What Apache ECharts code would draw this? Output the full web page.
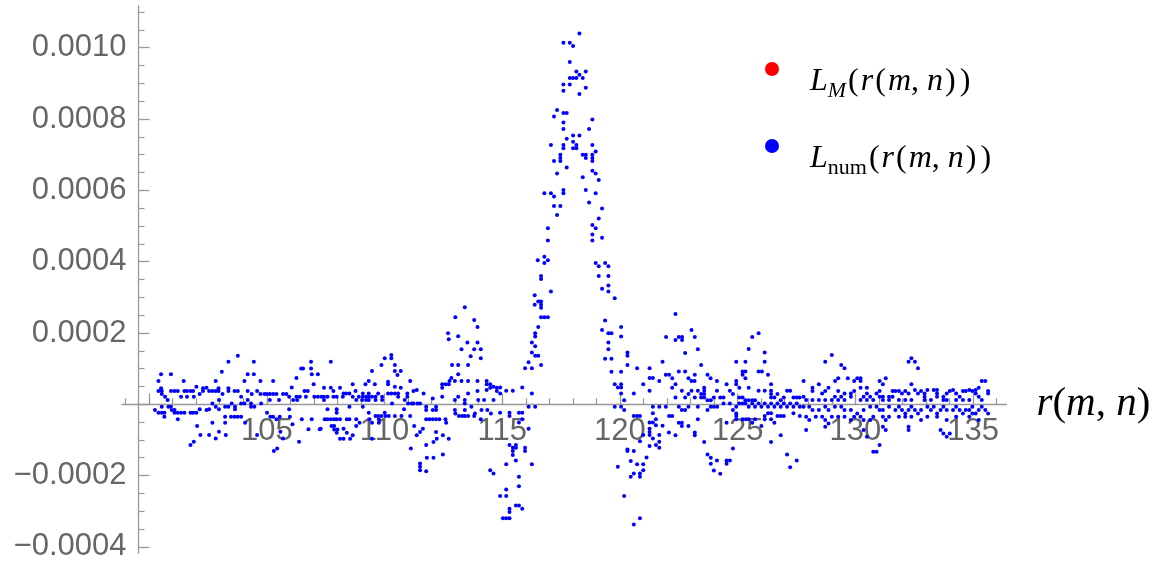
<!DOCTYPE html>
<html>
<head>
<meta charset="utf-8">
<script src="https://cdn.jsdelivr.net/npm/echarts@6/dist/echarts.min.js"></script>
<style>
  html, body { margin: 0; padding: 0; background: #ffffff; }
  #chart { width: 1160px; height: 562px; }
</style>
</head>
<body>
<div id="chart"></div>
<script>
// Axis ticks and labels
const xMajorTicks = [100, 105, 110, 115, 120, 125, 130, 135];
const xTickLabels = [105, 110, 115, 120, 125, 130, 135];
const xMinorTicks = [99, 100, 101, 102, 103, 104, 105, 106, 107, 108, 109, 110, 111, 112, 113, 114, 115, 116, 117, 118,
  119, 120, 121, 122, 123, 124, 125, 126, 127, 128, 129, 130, 131, 132, 133, 134, 135, 136];
const yMajorTicks = [-0.0004, -0.0002, 0, 0.0002, 0.0004, 0.0006, 0.0008, 0.001];
const yTickLabels = [-0.0004, -0.0002, 0.0002, 0.0004, 0.0006, 0.0008, 0.001];
const yMinorTicks = [-0.0004, -0.00035, -0.0003, -0.00025, -0.0002, -0.00015, -0.0001, -0.00005, 0, 0.00005,
  0.0001, 0.00015, 0.0002, 0.00025, 0.0003, 0.00035, 0.0004, 0.00045, 0.0005, 0.00055, 0.0006, 0.00065, 0.0007,
  0.00075, 0.0008, 0.00085, 0.0009, 0.00095, 0.001, 0.00105, 0.0011];

// L_M(r(m,n)) samples
const lModel = [];

// L_num(r(m,n)) samples, [r, L]
const lNumLow = [
  [100.25,-16e-6],[100.4,65e-6],[100.4,37e-6],[100.51,84e-6],[100.51,45e-6],[100.54,37e-6],[100.54,29e-6],[100.4,-24e-6],
  [100.54,-24e-6],[100.65,-24e-6],[100.68,21e-6],[100.54,-7e-6],[100.65,-35e-6],[100.79,12e-6],[100.82,-7e-6],[100.93,84e-6],
  [100.93,37e-6],[100.93,-7e-6],[100.96,-16e-6],[101.08,37e-6],[101.08,-16e-6],[101.08,-24e-6],[101.22,37e-6],[101.22,-42e-6],
  [101.22,-24e-6],[101.36,21e-6],[101.36,-24e-6],[101.47,65e-6],[101.5,37e-6],[101.5,-24e-6],[101.61,37e-6],[101.61,21e-6],
  [101.76,37e-6],[101.76,-24e-6],[101.76,-114e-6],[101.87,37e-6],[101.87,-24e-6],[101.9,21e-6],[101.9,-105e-6],[102.01,49e-6],
  [102.01,-24e-6],[102.04,-61e-6],[102.15,29e-6],[102.15,-14e-6],[102.18,-86e-6],[102.29,45e-6],[102.29,37e-6],[102.44,46e-6],
  [102.44,-16e-6],[102.55,37e-6],[102.55,-14e-6],[102.55,-86e-6],[102.69,37e-6],[102.69,2e-6],[102.69,-52e-6],[102.83,65e-6],
  [102.83,37e-6],[102.83,-7e-6],[102.83,-96e-6],[102.95,45e-6],[102.95,37e-6],[102.97,12e-6],[102.97,-14e-6],[102.97,-77e-6],
  [103.09,91e-6],[103.12,29e-6],[103.23,-7e-6],[103.23,-35e-6],[103.23,-52e-6],[103.26,-86e-6],[103.37,119e-6],[103.37,45e-6],
  [103.37,37e-6],[103.37,-7e-6],[103.51,2e-6],[103.48,-35e-6],[103.63,37e-6],[103.63,-35e-6],[103.65,-7e-6],[103.65,-14e-6],
  [103.77,136e-6],[103.77,37e-6],[103.77,-35e-6],[103.91,21e-6],[103.91,2e-6],[103.91,-35e-6],[104.05,65e-6],[104.05,2e-6],
  [104.08,-52e-6],[104.19,84e-6],[104.19,37e-6],[104.19,12e-6],[104.33,2e-6],[104.33,-7e-6],[104.36,29e-6],[104.45,119e-6],
  [104.45,84e-6],[104.47,-7e-6],[104.59,37e-6],[104.59,-86e-6],[104.73,65e-6],[104.73,29e-6],[104.76,2e-6],[104.9,29e-6],
  [105.01,29e-6],[105.01,-24e-6],[105.13,12e-6],[105.13,29e-6],[105.15,-35e-6],[105.27,65e-6],[105.27,29e-6],[105.27,-35e-6],
  [105.3,-131e-6],[105.41,29e-6],[105.41,-42e-6],[105.44,-124e-6],[105.52,12e-6],[105.55,-35e-6],[105.58,-77e-6],[105.69,29e-6],
  [105.69,-96e-6],[105.83,29e-6],[105.95,21e-6],[105.95,-14e-6],[105.98,-35e-6],[106.06,47e-6],[106.09,-56e-6],[106.12,12e-6],
  [106.26,74e-6],[106.26,21e-6],[106.29,12e-6],[106.37,-105e-6],[106.4,21e-6],[106.46,100e-6],[106.49,-42e-6],[106.54,100e-6],
  [106.6,37e-6],[106.66,21e-6],[106.74,37e-6],[106.77,-70e-6],[106.88,119e-6],[106.88,100e-6],[106.91,84e-6],[106.91,-42e-6],
  [106.99,56e-6],[107.02,21e-6],[107.17,84e-6],[107.17,21e-6],[107.25,-70e-6],
  [107.29,-69e-6],[107.32,21e-6],[107.43,46e-6],[107.43,21e-6],[107.43,12e-6],[107.46,-42e-6],[107.58,-42e-6],[107.58,-14e-6],
  [107.58,21e-6],[107.72,119e-6],[107.72,46e-6],[107.72,-42e-6],[107.75,-61e-6],[107.83,37e-6],[107.83,21e-6],[107.86,-42e-6],
  [107.86,-61e-6],[107.86,-71e-6],[107.97,21e-6],[107.97,-14e-6],[107.97,-24e-6],[107.97,-42e-6],[107.97,-80e-6],[108,-71e-6],
  [108.11,46e-6],[108.11,-42e-6],[108.11,-97e-6],[108.23,21e-6],[108.26,-69e-6],[108.26,-97e-6],[108.26,30e-6],[108.37,30e-6],
  [108.4,-42e-6],[108.4,-80e-6],[108.51,30e-6],[108.51,-7e-6],[108.51,-42e-6],[108.54,-97e-6],[108.65,56e-6],[108.65,21e-6],
  [108.65,-87e-6],[108.77,37e-6],[108.8,12e-6],[108.8,-42e-6],[108.8,-61e-6],[108.91,21e-6],[108.94,-52e-6],[109.05,12e-6],
  [109.08,-7e-6],[109.08,30e-6],[109.08,21e-6],[109.19,56e-6],[109.22,21e-6],[109.22,12e-6],[109.33,65e-6],[109.33,30e-6],
  [109.33,21e-6],[109.33,12e-6],[109.33,-24e-6],[109.36,-42e-6],[109.47,93e-6],[109.47,21e-6],[109.47,-52e-6],[109.47,-97e-6],
  [109.59,56e-6],[109.62,21e-6],[109.62,12e-6],[109.62,-33e-6],[109.73,30e-6],[109.73,-33e-6],[109.76,-42e-6],[109.76,-52e-6],
  [109.87,110e-6],[109.87,-33e-6],[109.9,21e-6],[109.9,12e-6],[110.01,129e-6],[110.01,-24e-6],[110.04,-33e-6],[110.15,63e-6],
  [110.15,56e-6],[110.15,30e-6],[110.18,-33e-6],[110.29,138e-6],[110.29,129e-6],[110.29,30e-6],[110.32,2e-6],[110.44,110e-6],
  [110.44,93e-6],[110.44,49e-6],[110.44,30e-6],[110.44,-33e-6],[110.55,82e-6],[110.58,30e-6],[110.58,21e-6],[110.69,93e-6],
  [110.69,46e-6],[110.72,-33e-6],[110.83,-14e-6],[110.86,12e-6],[110.97,30e-6],[110.97,21e-6],[111,2e-6],[111.09,65e-6],
  [111.09,-33e-6],[111.12,-124e-6],[111.15,2e-6],[111.23,37e-6],[111.23,2e-6],[111.26,-61e-6],[111.37,40e-6],[111.37,-87e-6],
  [111.4,2e-6],[111.51,2e-6],[111.51,-78e-6],[111.51,-166e-6],[111.51,-175e-6],[111.51,-185e-6],[111.63,-69e-6],[111.66,30e-6],
  [111.77,-7e-6],[111.77,-16e-6],[111.77,-42e-6],[111.77,-114e-6],[111.77,-188e-6],[111.8,-150e-6],[111.91,-42e-6],[112.05,16e-6],
  [112.05,-16e-6],[112.05,-42e-6],[112.08,-106e-6],[112.08,-150e-6],[112.19,-7e-6],[112.19,-16e-6],[112.19,-42e-6],[112.19,-78e-6],
  [112.22,-97e-6],[112.33,-42e-6],[112.45,56e-6],[112.45,46e-6],[112.45,21e-6],[112.48,-87e-6],[112.48,-141e-6],[112.59,56e-6],
  [112.59,-42e-6],[112.62,-52e-6],[112.7,199e-6],[112.73,182e-6],[112.73,56e-6],[112.73,-97e-6],[112.76,65e-6],[112.84,74e-6],
  [112.87,110e-6],[112.99,65e-6],[112.99,12e-6],[112.99,-16e-6],[113.01,244e-6],[113.01,-26e-6],[113.13,191e-6],[113.13,110e-6],
  [113.13,84e-6],[113.13,21e-6],[113.16,-33e-6],[113.27,154e-6],[113.27,65e-6],[113.3,-33e-6],[113.41,272e-6],[113.41,12e-6],
  [113.41,2e-6],[113.41,-16e-6],[113.41,-33e-6],[113.52,173e-6],[113.55,110e-6],[113.55,65e-6],[113.55,30e-6],[113.55,-33e-6],
  [113.66,135e-6],[113.69,-7e-6],[113.81,236e-6],[113.81,154e-6],[113.81,-33e-6],[113.84,-26e-6],[113.95,217e-6],[113.95,173e-6],
  [113.95,65e-6],[113.95,37e-6],[113.98,12e-6],[114.09,154e-6],[114.09,129e-6],[114.09,-42e-6],[114.12,-16e-6],[114.23,12e-6],
  [114.34,65e-6],[114.34,56e-6],[114.34,40e-6],[114.37,-16e-6],[114.49,56e-6],[114.49,46e-6],[114.49,-185e-6],[114.52,-26e-6],
  [114.63,49e-6],[114.63,12e-6],[114.63,-194e-6],[114.77,46e-6],[114.77,37e-6]
];

const lNumPeak = [
  [118.28,1040e-6],[117.6,1014e-6],[117.87,1014e-6],[118.01,1005e-6],[117.87,960e-6],[118.15,933e-6],[118.55,933e-6],[118.28,924e-6],
  [117.87,915e-6],[118.01,915e-6],[118.15,915e-6],[118.42,915e-6],[117.6,897e-6],[117.87,897e-6],[118.55,888e-6],[117.6,879e-6],
  [118.28,870e-6],[117.33,825e-6],[117.2,807e-6],[117.6,817e-6],[117.74,817e-6],[118.83,799e-6],[117.6,790e-6],[118.69,772e-6],
  [117.6,772e-6],[118.01,754e-6],[118.28,754e-6],[117.74,745e-6],[118.01,736e-6],[117.07,727e-6],[117.6,727e-6],[118.15,727e-6],
  [118.83,727e-6],[117.6,718e-6],[118.01,718e-6],[118.15,718e-6],[118.97,709e-6],[117.47,700e-6],[118.42,700e-6],[118.55,700e-6],
  [118.83,700e-6],[117.47,691e-6],[118.55,691e-6],[118.83,691e-6],[117.2,682e-6],[117.47,682e-6],[118.83,682e-6],[117.74,664e-6],
  [117.33,647e-6],[118.42,637e-6],[118.83,655e-6],[118.97,647e-6],[119.1,629e-6],[116.79,592e-6],[117.07,592e-6],[117.2,583e-6],
  [117.6,601e-6],[117.6,592e-6],[118.55,601e-6],[118.97,592e-6],[117.2,556e-6],[117.47,556e-6],[118.69,566e-6],[119.24,549e-6],
  [117.33,531e-6],[119.1,521e-6],
  [116.94,494e-6],[116.94,459e-6],[118.83,503e-6],[118.97,494e-6],[118.83,476e-6],[118.83,459e-6],[119.24,467e-6],[116.51,404e-6],
  [116.79,414e-6],[116.79,396e-6],[116.94,404e-6],[118.97,396e-6],[119.1,387e-6],[119.37,396e-6],[119.51,387e-6],[116.65,360e-6],
  [116.65,351e-6],[119.1,360e-6],[119.51,360e-6],[117.07,316e-6],[119.24,324e-6],[119.51,333e-6],[119.51,316e-6],[119.78,297e-6],
  [116.38,306e-6],[116.38,279e-6],[116.53,288e-6],[116.65,288e-6],[116.65,279e-6],[116.65,271e-6],[116.79,244e-6],[116.65,244e-6],
  [116.94,244e-6],[119.37,235e-6],[119.24,208e-6],[119.51,199e-6],[119.64,199e-6],[120.05,217e-6],[120.05,190e-6],[116.53,217e-6],
  [116.4,199e-6],[116.4,190e-6],[116.26,173e-6],[116.4,163e-6],[116.26,145e-6],[116.4,136e-6],[116.53,136e-6],[116.65,110e-6],
  [116.12,118e-6],[115.97,101e-6],[116.26,101e-6],[119.51,173e-6],[119.51,154e-6],[120.32,145e-6],[120.32,136e-6],[119.37,128e-6],
  [119.64,128e-6],[120.32,110e-6],[120.73,101e-6],[119.64,91e-6],[120.05,91e-6],[121.26,101e-6],[121.26,74e-6],[121.4,74e-6],
  [121.67,65e-6],[120.99,56e-6],[121.26,38e-6],[119.78,56e-6],[119.91,47e-6],[120.05,56e-6],[120.05,47e-6],[120.05,30e-6],
  [120.18,11e-6],[120.59,30e-6],[114.91,47e-6],[114.91,30e-6],[115.17,38e-6],[115.45,38e-6],[115.85,47e-6],[116.26,30e-6],
  [116.12,-7e-6],[116.4,-7e-6],[119.78,-7e-6],[120.05,-7e-6],[120.18,-16e-6],[120.59,-33e-6],[120.73,-33e-6],[120.85,-33e-6],
  [121.4,-7e-6],[121.67,-7e-6],[121.4,-25e-6],[121.53,-42e-6],[121.26,-51e-6],[121.4,-51e-6],[121.53,-59e-6],[121.26,-69e-6],
  [121.26,-78e-6],[121.26,-86e-6],[121.4,-96e-6],[121.67,-86e-6],[120.99,-86e-6],[121.67,-105e-6],[121.67,-122e-6],[120.85,-104e-6],
  [121.53,-114e-6],[121.26,-117e-6],[114.91,-24e-6],[115.31,-24e-6],[115.31,-33e-6],[115.71,-24e-6],[115.85,-24e-6],[115.85,-42e-6],
  [115.71,-51e-6],[116.12,-69e-6],[115.31,-114e-6],[115.45,-122e-6],[115.58,-122e-6],[115.45,-131e-6],[115.58,-114e-6],[115.45,-142e-6],
  [115.97,-122e-6],[115.97,-131e-6],[115.58,-158e-6],[116.26,-168e-6],[115.17,-168e-6],[115.71,-203e-6],[115.71,-230e-6],[115.17,-239e-6],
  [115.17,-257e-6],[114.91,-257e-6],[115.58,-284e-6],[115.71,-284e-6],[115.85,-293e-6],[115.31,-293e-6],[115.31,-302e-6],[115.17,-320e-6],
  [115.31,-320e-6],[115.03,-320e-6],[119.91,-175e-6],[120.32,-127e-6],[120.32,-131e-6],[120.46,-159e-6],[120.59,-131e-6],[120.73,-168e-6],
  [120.46,-203e-6],[120.59,-194e-6],[120.85,-194e-6],[120.85,-203e-6],[120.99,-185e-6],[121.13,-149e-6],[120.99,-168e-6],[120.18,-257e-6],
  [120.59,-337e-6],[120.85,-320e-6]
];

const lNumHigh = [
  [121.96,189e-6],[122.36,253e-6],[122.5,189e-6],[122.64,189e-6],[122.36,180e-6],[122.64,180e-6],[123.04,208e-6],[123.18,189e-6],
  [123.31,154e-6],[122.77,144e-6],[123.45,110e-6],[121.81,119e-6],[121.95,83e-6],[122.09,83e-6],[122.22,73e-6],[122.5,92e-6],
  [122.77,92e-6],[122.91,73e-6],[123.18,83e-6],[123.04,65e-6],[123.17,65e-6],[122.36,56e-6],[122.22,46e-6],[122.63,38e-6],
  [123.04,38e-6],[122.91,29e-6],[122.77,19e-6],[122.36,19e-6],[123.18,19e-6],[123.31,38e-6],[123.45,29e-6],[123.58,46e-6],
  [123.58,38e-6],[123.58,29e-6],[123.58,19e-6],[123.45,19e-6],[123.72,83e-6],[123.85,73e-6],[124.12,65e-6],[124.12,38e-6],
  [123.99,19e-6],[123.86,11e-6],[123.72,11e-6],[124.26,19e-6],[124.4,19e-6],[124.53,56e-6],[124.67,38e-6],[124.8,29e-6],
  [124.94,119e-6],[124.94,65e-6],[124.94,56e-6],[125.07,46e-6],[125.21,92e-6],[125.21,83e-6],[125.33,119e-6],[125.33,92e-6],
  [125.33,73e-6],[125.47,46e-6],[125.21,19e-6],[125.07,19e-6],[125.33,11e-6],[125.47,11e-6],[125.62,11e-6],[125.74,11e-6],
  [125.89,92e-6],[126.03,92e-6],[126.15,119e-6],[126.29,83e-6],[125.89,38e-6],[126.15,38e-6],[126.42,56e-6],[126.42,38e-6],
  [126.42,29e-6],[126.42,19e-6],[126.56,19e-6],[126.69,29e-6],[126.83,11e-6],[126.96,19e-6],[127.1,38e-6],[127.23,38e-6],
  [127.37,19e-6],[127.51,19e-6],[127.63,19e-6],[125.47,155e-6],[125.62,189e-6],[125.89,199e-6],[126.15,145e-6],
  [121.95,-7e-6],[122.09,-33e-6],[122.22,-33e-6],[122.5,-7e-6],[122.63,-16e-6],[122.77,-16e-6],[122.91,-7e-6],[123.31,-7e-6],
  [123.72,-16e-6],[123.86,-7e-6],[123.99,-7e-6],[124.13,-7e-6],[124.4,2e-6],[124.67,2e-6],[124.8,-16e-6],[124.94,-7e-6],
  [124.94,-26e-6],[125.07,2e-6],[125.21,2e-6],[125.33,2e-6],[125.47,-7e-6],[125.62,2e-6],[125.74,-7e-6],[125.89,2e-6],
  [126.01,-7e-6],[126.15,2e-6],[126.29,-7e-6],[126.42,2e-6],[126.56,-7e-6],[126.69,2e-6],[126.83,-7e-6],[126.96,2e-6],
  [127.1,-7e-6],[127.23,2e-6],[127.37,-7e-6],[127.51,2e-6],[127.64,-7e-6],[121.81,-60e-6],[122.08,-79e-6],[122.36,-87e-6],
  [122.5,-52e-6],[122.63,-52e-6],[122.63,-61e-6],[122.91,-61e-6],[123.18,-79e-6],[123.18,-87e-6],[123.31,-42e-6],[123.58,-106e-6],
  [123.72,-141e-6],[123.86,-150e-6],[123.86,-167e-6],[124.12,-158e-6],[124.26,-195e-6],[123.99,-186e-6],[124.53,-158e-6],[124.53,-167e-6],
  [124.67,-158e-6],[124.53,-52e-6],[124.8,-124e-6],[124.94,-33e-6],[124.94,-42e-6],[125.21,-42e-6],[125.35,-42e-6],[125.47,-42e-6],
  [125.62,-52e-6],[125.74,-42e-6],[126.01,-61e-6],[126.15,-33e-6],[126.15,-42e-6],[126.29,-25e-6],[126.42,-25e-6],[126.42,-42e-6],
  [126.56,-52e-6],[126.69,-33e-6],[126.83,-87e-6],[126.83,-33e-6],[126.96,-33e-6],[127.1,-141e-6],[127.23,-177e-6],[127.51,-158e-6],
  [127.37,-25e-6],[127.64,-33e-6],[126.42,-106e-6],
  [128.72,119e-6],[129,138e-6],[129.4,110e-6],[129.54,101e-6],[129.14,65e-6],[129.27,73e-6],[129.68,73e-6],[129.95,65e-6],
  [130.08,73e-6],[130.22,73e-6],[130.22,65e-6],[131.03,65e-6],[131.17,56e-6],[131.29,73e-6],[132.38,56e-6],[132.26,119e-6],
  [132.38,129e-6],[132.53,119e-6],[132.66,101e-6],[127.8,65e-6],[128.18,46e-6],[128.18,37e-6],[128.45,56e-6],[128.59,30e-6],
  [128.72,37e-6],[128.86,46e-6],[129.13,21e-6],[129.27,37e-6],[129.4,21e-6],[129.54,30e-6],[129.81,30e-6],[129.81,21e-6],
  [129.95,37e-6],[130.22,46e-6],[130.35,21e-6],[130.49,30e-6],[130.49,46e-6],[130.63,21e-6],[130.76,12e-6],[130.9,30e-6],
  [131.03,37e-6],[131.03,21e-6],[131.17,21e-6],[131.43,21e-6],[131.58,37e-6],[131.7,37e-6],[131.85,37e-6],[131.98,30e-6],
  [132.12,37e-6],[132.26,30e-6],[132.53,40e-6],[132.66,30e-6],[132.79,37e-6],[132.94,30e-6],[132.94,12e-6],[133.06,40e-6],
  [133.33,40e-6],[133.47,40e-6],[133.47,30e-6],[133.47,21e-6],[133.74,21e-6],[133.88,30e-6],[134.01,37e-6],[134.15,40e-6],
  [134.28,30e-6],[134.43,21e-6],[134.57,37e-6],[134.69,37e-6],[134.84,40e-6],[134.97,37e-6],[135.11,40e-6],[135.11,30e-6],
  [135.24,46e-6],[135.37,65e-6],[135.52,65e-6],[135.64,37e-6],[135.64,30e-6],[135.24,21e-6],[135.37,12e-6],[134.84,12e-6],
  [134.57,12e-6],[134.28,12e-6],[133.88,12e-6],[133.74,12e-6],[133.21,12e-6],[132.94,21e-6],[132.38,12e-6],[132.12,12e-6],
  [131.85,12e-6],[131.58,21e-6],[131.43,12e-6],[131.17,12e-6],[130.49,12e-6],[130.22,12e-6],[129.54,12e-6],[129.27,12e-6],
  [129,12e-6],[128.72,12e-6],[128.45,12e-6],[128.18,12e-6],[127.91,12e-6],[127.8,21e-6],
  [127.8,-7e-6],[128.04,-7e-6],[128.18,-16e-6],[128.45,-16e-6],[128.72,-7e-6],[128.86,-16e-6],[129.13,-7e-6],[129.4,-7e-6],
  [129.54,-16e-6],[129.81,-16e-6],[130.08,-26e-6],[130.35,-16e-6],[130.63,-7e-6],[130.9,-7e-6],[131.03,-16e-6],[131.17,-16e-6],
  [131.43,-7e-6],[131.7,-16e-6],[131.85,-7e-6],[131.98,-16e-6],[132.12,-26e-6],[132.26,-16e-6],[132.38,-7e-6],[132.53,-16e-6],
  [132.66,-26e-6],[132.79,-16e-6],[133.06,-7e-6],[133.21,-16e-6],[133.33,-7e-6],[133.47,-26e-6],[133.62,-16e-6],[133.74,-7e-6],
  [133.88,-16e-6],[134.15,-16e-6],[134.28,-7e-6],[134.43,-16e-6],[134.57,-26e-6],[134.69,-16e-6],[134.84,-16e-6],[134.97,-7e-6],
  [135.11,-26e-6],[135.24,-16e-6],[135.37,-7e-6],[135.52,-16e-6],[135.64,-26e-6],
  [127.91,-35e-6],[128.04,-44e-6],[128.32,-35e-6],[128.59,-35e-6],[128.72,-44e-6],[128.86,-54e-6],[129,-35e-6],[129.27,-35e-6],
  [129.54,-35e-6],[129.81,-44e-6],[129.95,-35e-6],[130.22,-35e-6],[130.35,-44e-6],[130.63,-44e-6],[130.76,-35e-6],[131.17,-35e-6],
  [131.29,-44e-6],[131.43,-35e-6],[131.85,-35e-6],[132.12,-35e-6],[132.38,-35e-6],[132.79,-44e-6],[133.06,-35e-6],[133.47,-35e-6],
  [133.88,-44e-6],[134.28,-35e-6],[134.84,-35e-6],[134.97,-26e-6],[135.24,-44e-6],
  [127.91,-72e-6],[128.72,-63e-6],[130.35,-72e-6],[130.49,-91e-6],[131.17,-63e-6],[131.29,-72e-6],[132.26,-63e-6],[132.26,-72e-6],
  [133.62,-72e-6],[133.74,-82e-6],[133.88,-91e-6],[134.01,-82e-6],[130.76,-133e-6],[130.9,-133e-6],[131.03,-114e-6]
];

const lNumValues = lNumLow.concat(lNumPeak, lNumHigh);

const axisGray = '#999999';
const labelGray = '#666666';
const sansFont = "'Liberation Sans', Arial, sans-serif";
const serifFont = "'Liberation Serif', 'Times New Roman', serif";

const mathRich = {
  i: { fontFamily: serifFont, fontStyle: 'italic', fontSize: 32, lineHeight: 40, color: '#000' },
  u: { fontFamily: serifFont, fontSize: 32, lineHeight: 40, color: '#000' },
  p: { fontFamily: serifFont, fontSize: 32, lineHeight: 40, padding: [0, 2, 0, 2], color: '#000' },
  si: { fontFamily: serifFont, fontStyle: 'italic', fontSize: 22, lineHeight: 24, verticalAlign: 'bottom', color: '#000' },
  su: { fontFamily: serifFont, fontSize: 22, lineHeight: 24, verticalAlign: 'bottom', color: '#000' }
};

const legendText = {
  LM: '{i|L}{si|M}{p|(}{i|r}{p|(}{i|m}{u|, }{i|n}{p|)}{p|)}',
  Lnum: '{i|L}{su|num}{p|(}{i|r}{p|(}{i|m}{u|, }{i|n}{p|)}{p|)}'
};

const xRange = [98.85, 136.42];
const yRange = [-0.000418, 0.001117];

const chart = echarts.init(document.getElementById('chart'), null, { renderer: 'canvas' });

const baseX = {
  type: 'value', gridIndex: 0, position: 'bottom', min: xRange[0], max: xRange[1],
  splitLine: { show: false }
};
const baseY = {
  type: 'value', gridIndex: 0, position: 'left', offset: -16.5, min: yRange[0], max: yRange[1],
  splitLine: { show: false }
};

chart.setOption({
  animation: false,
  backgroundColor: '#ffffff',
  grid: { left: 122, right: 153.5, top: 6, bottom: 8.7, containLabel: false, outerBoundsMode: 'none' },
  legend: {
    orient: 'vertical',
    left: 760,
    top: 57,
    itemWidth: 14,
    itemHeight: 14,
    itemGap: 37,
    icon: 'circle',
    selectedMode: false,
    data: ['LM', 'Lnum'],
    formatter: name => legendText[name],
    textStyle: { padding: [26, 0, 0, 26], rich: mathRich }
  },
  xAxis: [
    Object.assign({}, baseX, {
      name: '{i|r}{u|(}{i|m}{u|, }{i|n}{u|)}',
      nameLocation: 'end',
      nameGap: 30,
      nameTextStyle: {
        color: '#000',
        rich: {
          i: { fontFamily: serifFont, fontStyle: 'italic', fontSize: 41, color: '#000' },
          u: { fontFamily: serifFont, fontSize: 41, color: '#000' }
        }
      },
      axisLine: { show: true, onZero: true, onZeroAxisIndex: 0, lineStyle: { color: axisGray, width: 1.3 } },
      axisTick: { show: true, inside: true, length: 6, customValues: xMinorTicks, lineStyle: { color: axisGray, width: 1.2 } },
      axisLabel: { show: false }
    }),
    Object.assign({}, baseX, {
      // same scale, lifted onto the zero line
      offset: -149,
      axisLine: { show: false, onZero: false },
      axisTick: { show: true, inside: true, length: 11, customValues: xMajorTicks, lineStyle: { color: axisGray, width: 1.2 } },
      axisLabel: {
        show: true, customValues: xTickLabels, margin: 12,
        fontFamily: sansFont, fontSize: 31, color: labelGray
      }
    })
  ],
  yAxis: [
    Object.assign({}, baseY, {
      axisLine: { show: true, onZero: false, lineStyle: { color: axisGray, width: 1.3 } },
      axisTick: { show: true, inside: true, length: 6, customValues: yMinorTicks, lineStyle: { color: axisGray, width: 1.2 } },
      axisLabel: { show: false }
    }),
    Object.assign({}, baseY, {
      axisLine: { show: true, onZero: false, lineStyle: { color: 'rgba(0,0,0,0)' } },
      axisTick: { show: true, inside: true, length: 11, customValues: yMajorTicks, lineStyle: { color: axisGray, width: 1.2 } },
      axisLabel: {
        show: true, customValues: yTickLabels, margin: 12,
        fontFamily: sansFont, fontSize: 31, color: labelGray,
        formatter: v => (v < 0 ? '\u2212' : '') + Math.abs(v).toFixed(4)
      }
    })
  ],
  series: [
    {
      name: 'LM', type: 'scatter', xAxisIndex: 0, yAxisIndex: 0,
      data: lModel, symbol: 'circle', symbolSize: 4,
      itemStyle: { color: '#ff0000', opacity: 1 }, silent: true
    },
    {
      name: 'Lnum', type: 'scatter', xAxisIndex: 0, yAxisIndex: 0,
      data: lNumValues, symbol: 'circle', symbolSize: 4,
      itemStyle: { color: '#0000ff', opacity: 1 }, silent: true
    }
  ]
});
</script>
</body>
</html>
